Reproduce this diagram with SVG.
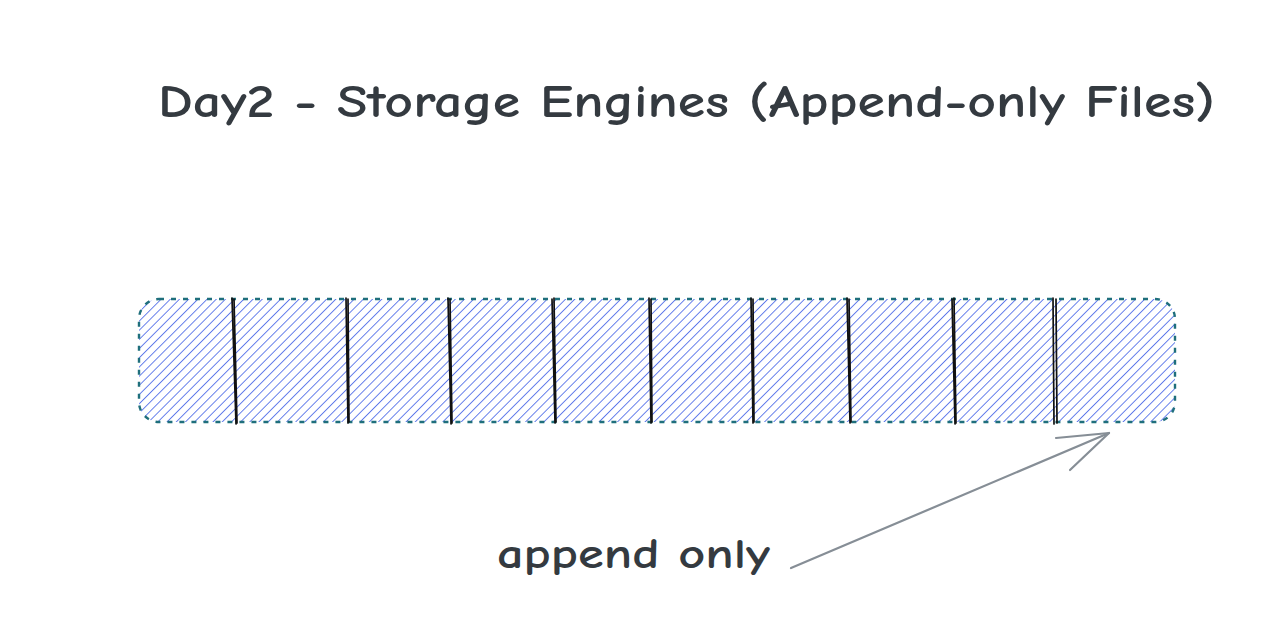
<svg xmlns="http://www.w3.org/2000/svg" width="1280" height="638" viewBox="0 0 1280 638">
<style>
.txt{font-family:"Comic Neue","Liberation Sans",sans-serif;fill:#343a40;font-weight:bold}
.div{stroke:#111;stroke-width:1.7;fill:none;stroke-linecap:round}
.arrow{stroke:#868e96;stroke-width:2.2;fill:none;stroke-linecap:round;stroke-linejoin:round}
</style>
<defs>
<pattern id="hatch" patternUnits="userSpaceOnUse" width="6.5" height="6.5" patternTransform="rotate(45)">
<line x1="0" y1="0" x2="0" y2="6.5" stroke="#5f79ea" stroke-width="1.9"/>
</pattern>
</defs>
<rect width="1280" height="638" fill="#ffffff"/>
<g id="title">
<text class="txt" x="158" y="117" font-size="46" textLength="1057" lengthAdjust="spacingAndGlyphs">Day2 - Storage Engines (Append-only Files)</text>
</g>
<g id="log">
<rect x="139" y="299" width="1036" height="123" rx="20" ry="20" fill="url(#hatch)" stroke="#1f6f7c" stroke-width="2.4" stroke-dasharray="5 7"/>
<path class="div" d="M232 298 L236 424 M234 299 L237 423"/>
<path class="div" d="M346 298 L348 423 M348 299 L349 422"/>
<path class="div" d="M448 298 L451 424 M450 299 L452 423"/>
<path class="div" d="M552 299 L555 423 M554 298 L556 422"/>
<path class="div" d="M649 298 L651 423 M651 299 L652 422"/>
<path class="div" d="M751 298 L753 423 M753 299 L754 422"/>
<path class="div" d="M847 298 L850 423 M849 299 L851 422"/>
<path class="div" d="M952 299 L955 424 M954 298 L956 423"/>
<path class="div" d="M1053 298 L1054 424 M1056 299 L1057 423"/>
</g>
<g id="label">
<text class="txt" x="497" y="568" font-size="42" textLength="273" lengthAdjust="spacingAndGlyphs">append only</text>
</g>
<g id="connectors">
<path class="arrow" d="M791 568 L1109 433"/>
<path class="arrow" d="M1056 438 L1109 433 L1070 470"/>
</g>
</svg>
